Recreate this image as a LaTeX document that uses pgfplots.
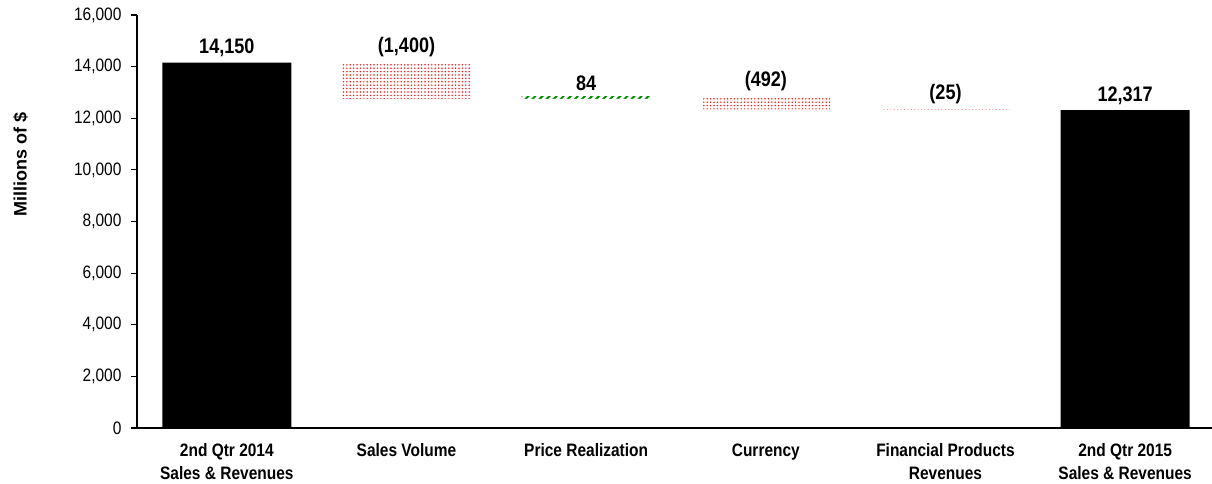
\documentclass[border=0pt]{standalone}
\usepackage{fontspec}
\setmainfont{Liberation Sans}[FakeStretch=0.86]
\newfontfamily\widefont{Liberation Sans}
\usepackage{pgfplots}
\usepackage{pgfplotstable}
\pgfplotsset{compat=1.18}
\usetikzlibrary{patterns,patterns.meta}

% black totals
\pgfplotstableread{
x y
0 14150
5 12317
}\blackdata
% red (decrease) bars: top of bar
\pgfplotstableread{
x y
1 14150
3 12834
4 12342
}\redtop
% green (increase) bar: top of bar
\pgfplotstableread{
x y
2 12834
}\greentop
% bottoms of the floating bars
\pgfplotstableread{
x y
1 12750
2 12750
3 12342
4 12317
}\floatbottom

\begin{document}
\begin{tikzpicture}
\begin{axis}[
  name=ax,
  scale only axis,
  width=1078pt, height=413pt,
  ybar, bar shift=0pt,
  bar width=129pt,
  xmin=-0.5, xmax=5.5,
  ymin=0, ymax=16000,
  ytick={0,2000,...,16000},
  scaled y ticks=false,
  /pgf/number format/.cd, 1000 sep={,}, assume math mode=true,
  /pgfplots/.cd,
  axis on top,
  axis lines*=left,
  axis line style={line width=1.3pt},
  tick align=outside,
  major tick length=6pt,
  minor tick length=7pt,
  tick style={line width=1.2pt, black},
  xtick={0,...,5},
  xtick style={draw=none},
  minor xtick={-0.5,0.5,1.5,2.5,3.5,4.5},
  xticklabels={{2nd Qtr 2014\\Sales \& Revenues},{Sales Volume},{Price Realization},{Currency},{Financial Products\\Revenues},{2nd Qtr 2015\\Sales \& Revenues}},
  xticklabel style={align=center, font=\fontsize{18}{23}\selectfont\bfseries, yshift=-6pt},
  yticklabel style={font=\fontsize{18}{22}\selectfont, xshift=-6pt},
  ylabel={\widefont\bfseries Millions of \$},
  ylabel style={font=\fontsize{18}{22}\selectfont, at={(axis description cs:-0.108,0.637)}, anchor=center},
  clip=false,
]
\addplot[draw=none, fill=black] table[x=x, y=y] {\blackdata};
\addplot[draw=none, pattern={Dots[distance=3.4pt, radius=0.85pt]}, pattern color=red!90] table[x=x, y=y] {\redtop};
\addplot[draw=none, pattern={Lines[angle=45, distance=5pt, line width=2pt]}, pattern color=green!55!black] table[x=x, y=y] {\greentop};
\addplot[draw=none, fill=white, bar width=133pt] table[x=x, y=y] {\floatbottom};
\addplot[draw=none, fill=none, nodes near coords={\pgfplotspointmeta},
  point meta=explicit symbolic,
  nodes near coords style={font=\fontsize{21}{24}\selectfont\bfseries, anchor=south, yshift=2pt}]
  coordinates {(0,14150) [14{,}150] (1,14150) [(1{,}400)] (2,12834) [84] (3,12834) [(492)] (4,12342) [(25)] (5,12317) [12{,}317]};
\coordinate (bl) at (rel axis cs:0,0);
\coordinate (tr) at (rel axis cs:1,1);
\end{axis}
\pgfresetboundingbox
\path ([shift={(-137pt,-55pt)}]bl) rectangle ([shift={(-3pt,15pt)}]tr);
\end{tikzpicture}
\end{document}
